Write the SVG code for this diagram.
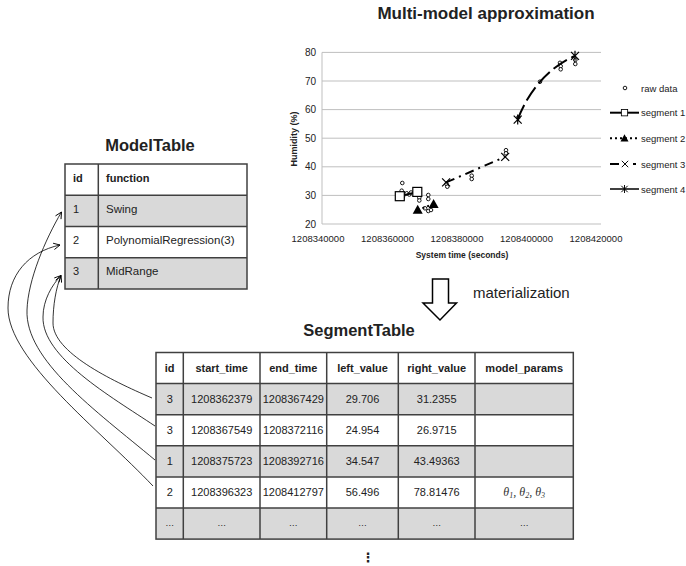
<svg xmlns="http://www.w3.org/2000/svg" xmlns:xlink="http://www.w3.org/1999/xlink" width="686" height="566" viewBox="0 0 686 566">
<style>
text{font-family:"Liberation Sans",Arial,sans-serif;fill:#222}
.title{font-weight:bold;font-size:16.5px;text-anchor:middle}
.hdr{font-weight:bold;font-size:11px}
.cell{font-size:11px}
.c{text-anchor:middle}
.grid{stroke:#bfbfbf;stroke-width:1}
.tick{font-size:9.5px}
.leg{font-size:9.5px}
.tb{stroke:#404040;stroke-width:1.5;fill:none}
.gray{fill:#d9d9d9}
.white{fill:#fff}
.raw{fill:#fff;stroke:#000;stroke-width:0.9}
.conn{fill:none;stroke:#000;stroke-width:0.8;marker-end:url(#ah)}
.dots{font-size:9px;fill:#666;text-anchor:middle}
</style>
<defs>
<marker id="ah" viewBox="0 0 10 10" refX="9" refY="5" markerWidth="8" markerHeight="8" orient="auto" markerUnits="userSpaceOnUse">
<path d="M1,1 L9,5 L1,9" fill="none" stroke="#000" stroke-width="1.1"/>
</marker>
<circle id="rp" r="1.8" class="raw"/>
<rect id="sq" x="-4.5" y="-4.5" width="9" height="9" fill="#fff" stroke="#000" stroke-width="1.2"/>
<path id="tri" d="M0,-5 L5,4 L-5,4 Z" fill="#000"/>
<path id="xm" d="M-4,-4 L4,4 M-4,4 L4,-4" stroke="#000" stroke-width="1.2" fill="none"/>
<path id="ast" d="M-4,-4 L4,4 M-4,4 L4,-4 M0,-5 L0,5" stroke="#000" stroke-width="1.2" fill="none"/>
</defs>
<rect width="686" height="566" fill="#fff"/>

<g id="chart">
<text x="486" y="19" style="font-weight:bold;font-size:17px;text-anchor:middle">Multi-model approximation</text>
<g>
<line class="grid" x1="322" y1="52.4" x2="601" y2="52.4"/>
<line class="grid" x1="322" y1="81" x2="601" y2="81"/>
<line class="grid" x1="322" y1="109.6" x2="601" y2="109.6"/>
<line class="grid" x1="322" y1="138.2" x2="601" y2="138.2"/>
<line class="grid" x1="322" y1="166.8" x2="601" y2="166.8"/>
<line class="grid" x1="322" y1="195.4" x2="601" y2="195.4"/>
<line class="grid" x1="322" y1="224" x2="601" y2="224"/>
<line class="grid" x1="322" y1="52.4" x2="322" y2="224"/>
</g>
<g class="tick" text-anchor="end" style="font-size:10px">
<text x="316" y="56">80</text>
<text x="316" y="84.6">70</text>
<text x="316" y="113.2">60</text>
<text x="316" y="141.8">50</text>
<text x="316" y="170.4">40</text>
<text x="316" y="199">30</text>
<text x="316" y="227.6">20</text>
</g>
<g class="tick" text-anchor="middle">
<text x="318" y="241.5">1208340000</text>
<text x="387.5" y="241.5">1208360000</text>
<text x="457" y="241.5">1208380000</text>
<text x="526.5" y="241.5">1208400000</text>
<text x="596" y="241.5">1208420000</text>
</g>
<text x="462" y="258" style="font-weight:bold;font-size:8.5px;text-anchor:middle">System time (seconds)</text>
<text transform="translate(297,139) rotate(-90)" style="font-weight:bold;font-size:9px;text-anchor:middle">Humidity (%)</text>

<g id="rawdata">
<use href="#rp" x="402.3" y="183"/>
<use href="#rp" x="401.7" y="190.7"/>
<use href="#rp" x="403" y="196.7"/>
<use href="#rp" x="403.5" y="193.3"/>
<use href="#rp" x="406.7" y="193.3"/>
<use href="#rp" x="409.3" y="194.5"/>
<use href="#rp" x="411" y="192.5"/>
<use href="#rp" x="419.3" y="197.7"/>
<use href="#rp" x="419.3" y="200.5"/>
<use href="#rp" x="428.3" y="195"/>
<use href="#rp" x="428.3" y="199"/>
<use href="#rp" x="425" y="208.3"/>
<use href="#rp" x="428.3" y="211"/>
<use href="#rp" x="431" y="210"/>
<use href="#rp" x="446.5" y="184"/>
<use href="#rp" x="447.3" y="186.7"/>
<use href="#rp" x="471.7" y="175.7"/>
<use href="#rp" x="471.7" y="179"/>
<use href="#rp" x="506" y="150.2"/>
<use href="#rp" x="506" y="153.3"/>
<use href="#rp" x="518.3" y="117.5"/>
<use href="#rp" x="540" y="81.7"/>
<use href="#rp" x="560" y="62.8"/>
<use href="#rp" x="560.7" y="66.2"/>
<use href="#rp" x="560.7" y="69.3"/>
<use href="#rp" x="575.3" y="60"/>
<use href="#rp" x="575.3" y="64"/>
</g>
<g id="seg1">
<line x1="399.8" y1="196.2" x2="417.3" y2="191.9" stroke="#000" stroke-width="2"/>
<use href="#sq" x="399.8" y="196.2"/>
<use href="#sq" x="417.3" y="191.9"/>
</g>
<g id="seg2">
<line x1="417.7" y1="209.8" x2="433.6" y2="204.1" stroke="#000" stroke-width="2" stroke-dasharray="2,3"/>
<use href="#tri" x="417.7" y="209.8"/>
<use href="#tri" x="433.6" y="204.1"/>
</g>
<g id="seg3">
<line x1="446.1" y1="182.4" x2="505.2" y2="156.8" stroke="#000" stroke-width="2" stroke-dasharray="9,5,2,5"/>
<use href="#xm" x="446.1" y="182.4"/>
<use href="#xm" x="505.2" y="156.8"/>
</g>
<g id="seg4">
<path d="M517.7,119.6 C527,95 545,69 575,55.8" fill="none" stroke="#000" stroke-width="2" stroke-dasharray="16,5"/>
<use href="#ast" x="517.7" y="119.6"/>
<use href="#ast" x="575" y="55.8"/>
</g>
<g id="legend">
<use href="#rp" x="625" y="88"/>
<text class="leg" x="641" y="91.5">raw data</text>
<line x1="610" y1="112.7" x2="639" y2="112.7" stroke="#000" stroke-width="2"/>
<use href="#sq" transform="translate(624.5,112.7) scale(0.7)"/>
<text class="leg" x="641" y="116.2">segment 1</text>
<line x1="610" y1="138.3" x2="639" y2="138.3" stroke="#000" stroke-width="2" stroke-dasharray="2,3"/>
<use href="#tri" transform="translate(624.5,138.3) scale(0.8)"/>
<text class="leg" x="641" y="141.8">segment 2</text>
<line x1="610" y1="164" x2="619" y2="164" stroke="#000" stroke-width="2"/>
<use href="#xm" transform="translate(625,164) scale(0.8)"/>
<line x1="633" y1="164" x2="636" y2="164" stroke="#000" stroke-width="2"/>
<text class="leg" x="641" y="167.5">segment 3</text>
<line x1="610" y1="189" x2="639" y2="189" stroke="#000" stroke-width="1.5"/>
<use href="#ast" transform="translate(624.5,189) scale(0.8)"/>
<text class="leg" x="641" y="192.5">segment 4</text>
</g>
</g>

<g id="materialization">
<polygon points="432.5,279 448.5,279 448.5,303 456.5,303 440,320 423,303 432.5,303" fill="#fff" stroke="#000" stroke-width="1.5"/>
<text x="473" y="298" style="font-size:15px">materialization</text>
</g>

<g id="ModelTable">
<text class="title" x="150" y="151">ModelTable</text>
<rect class="white" x="65" y="164" width="182" height="31.25"/>
<rect class="gray" x="65" y="195.25" width="182" height="31.25"/>
<rect class="white" x="65" y="226.5" width="182" height="31.25"/>
<rect class="gray" x="65" y="257.75" width="182" height="31.25"/>
<g class="tb">
<rect x="65" y="164" width="182" height="125"/>
<line x1="65" y1="195.25" x2="247" y2="195.25"/>
<line x1="65" y1="226.5" x2="247" y2="226.5"/>
<line x1="65" y1="257.75" x2="247" y2="257.75"/>
<line x1="98.3" y1="164" x2="98.3" y2="289"/>
</g>
<text class="hdr" x="73" y="181.5">id</text>
<text class="hdr" x="106" y="181.5">function</text>
<text class="cell" x="73" y="212.5">1</text>
<text class="cell" x="106" y="212.5" style="font-size:11.5px">Swing</text>
<text class="cell" x="73" y="243.5">2</text>
<text class="cell" x="106" y="243.5" style="font-size:11.5px">PolynomialRegression(3)</text>
<text class="cell" x="73" y="275">3</text>
<text class="cell" x="106" y="275" style="font-size:11.5px">MidRange</text>
</g>

<g id="SegmentTable">
<text class="title" x="359" y="336">SegmentTable</text>
<rect class="white" x="156" y="352.5" width="417.3" height="31.1"/>
<rect class="gray" x="156" y="383.6" width="417.3" height="31.1"/>
<rect class="white" x="156" y="414.7" width="417.3" height="31.1"/>
<rect class="gray" x="156" y="445.8" width="417.3" height="31.1"/>
<rect class="white" x="156" y="476.9" width="417.3" height="31.1"/>
<rect class="gray" x="156" y="508" width="417.3" height="31.1"/>
<g class="tb">
<rect x="156" y="352.5" width="417.3" height="186.6"/>
<line x1="156" y1="383.6" x2="573.3" y2="383.6"/>
<line x1="156" y1="414.7" x2="573.3" y2="414.7"/>
<line x1="156" y1="445.8" x2="573.3" y2="445.8"/>
<line x1="156" y1="476.9" x2="573.3" y2="476.9"/>
<line x1="156" y1="508" x2="573.3" y2="508"/>
<line x1="183.3" y1="352.5" x2="183.3" y2="539.1"/>
<line x1="260" y1="352.5" x2="260" y2="539.1"/>
<line x1="326.7" y1="352.5" x2="326.7" y2="539.1"/>
<line x1="398.3" y1="352.5" x2="398.3" y2="539.1"/>
<line x1="475" y1="352.5" x2="475" y2="539.1"/>
</g>
<g class="hdr c">
<text x="169.7" y="372">id</text>
<text x="221.7" y="372">start_time</text>
<text x="293.3" y="372">end_time</text>
<text x="362.5" y="372">left_value</text>
<text x="436.7" y="372">right_value</text>
<text x="524.2" y="372">model_params</text>
</g>
<g class="cell c">
<text x="169.7" y="403">3</text>
<text x="221.7" y="403">1208362379</text>
<text x="293.3" y="403">1208367429</text>
<text x="362.5" y="403">29.706</text>
<text x="436.7" y="403">31.2355</text>
<text x="169.7" y="434">3</text>
<text x="221.7" y="434">1208367549</text>
<text x="293.3" y="434">1208372116</text>
<text x="362.5" y="434">24.954</text>
<text x="436.7" y="434">26.9715</text>
<text x="169.7" y="465">1</text>
<text x="221.7" y="465">1208375723</text>
<text x="293.3" y="465">1208392716</text>
<text x="362.5" y="465">34.547</text>
<text x="436.7" y="465">43.49363</text>
<text x="169.7" y="496">2</text>
<text x="221.7" y="496">1208396323</text>
<text x="293.3" y="496">1208412797</text>
<text x="362.5" y="496">56.496</text>
<text x="436.7" y="496">78.81476</text>
</g>
<text x="524.2" y="496" style="font-family:'Liberation Serif','DejaVu Serif',serif;font-style:italic;font-size:12px;text-anchor:middle;fill:#333">θ<tspan font-size="8" dy="2">1</tspan><tspan dy="-2">, θ</tspan><tspan font-size="8" dy="2">2</tspan><tspan dy="-2">, θ</tspan><tspan font-size="8" dy="2">3</tspan></text>
<g class="dots">
<text x="169.7" y="526">…</text>
<text x="221.7" y="526">…</text>
<text x="293.3" y="526">…</text>
<text x="362.5" y="526">…</text>
<text x="436.7" y="526">…</text>
<text x="524.2" y="526">…</text>
</g>
<text x="368.3" y="562" style="font-family:'DejaVu Sans',sans-serif;font-weight:bold;font-size:13px;text-anchor:middle">⋮</text>
</g>

<g id="connectors">
<path class="conn" d="M152,398 C110,380 53,352 53,323 C53,305 56,288 61,275.5"/>
<path class="conn" d="M155,426 C110,396 42,357 43,317 C43,300 52,285 61,275.5"/>
<path class="conn" d="M155,460 C95,410 25,360 27,310 C28,280 45,240 61.5,212"/>
<path class="conn" d="M153,486 C100,430 8,360 8,308 C8,275 28,252 60,245"/>
</g>
</svg>
